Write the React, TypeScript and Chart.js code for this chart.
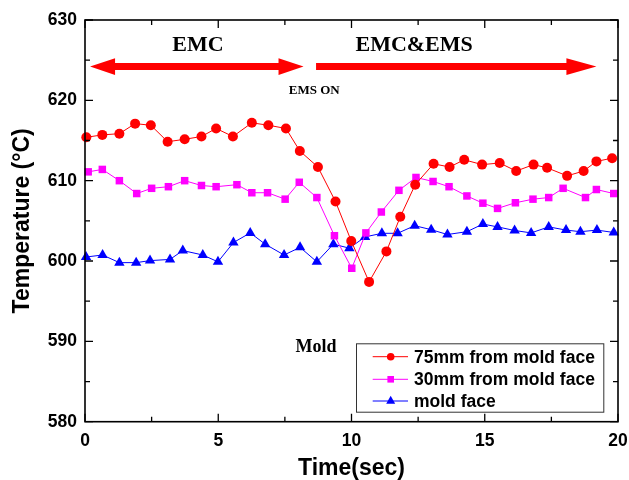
import React, { useEffect, useRef } from "react";
import { Chart, registerables } from "chart.js";

Chart.register(...registerables);

// ---- Data ----
const time75 = [0.05, 0.65, 1.29, 1.88, 2.47, 3.1, 3.74, 4.37, 4.92, 5.55, 6.26, 6.88, 7.54, 8.06, 8.74, 9.4, 9.99, 10.66, 11.31, 11.83, 12.39, 13.08, 13.68, 14.23, 14.9, 15.56, 16.18, 16.83, 17.34, 18.09, 18.71, 19.19, 19.78];
const temp75 = [615.4, 615.7, 615.85, 617.1, 616.9, 614.85, 615.15, 615.5, 616.5, 615.5, 617.2, 616.9, 616.5, 613.7, 611.7, 607.4, 602.5, 597.4, 601.2, 605.5, 609.5, 612.1, 611.7, 612.6, 612.0, 612.2, 611.2, 612.0, 611.6, 610.6, 611.2, 612.4, 612.8];

const time30 = [0.12, 0.65, 1.29, 1.94, 2.5, 3.13, 3.74, 4.37, 4.92, 5.7, 6.26, 6.85, 7.51, 8.04, 8.7, 9.36, 10.01, 10.54, 11.12, 11.78, 12.42, 13.06, 13.66, 14.33, 14.93, 15.48, 16.15, 16.81, 17.4, 17.94, 18.78, 19.19, 19.84];
const temp30 = [611.1, 611.4, 610.0, 608.4, 609.05, 609.25, 610.0, 609.4, 609.25, 609.5, 608.5, 608.5, 607.7, 609.8, 607.9, 603.15, 599.1, 603.5, 606.1, 608.8, 610.4, 609.9, 609.25, 608.1, 607.2, 606.55, 607.25, 607.7, 607.9, 609.05, 607.9, 608.9, 608.4];

const timeFace = [0.04, 0.66, 1.29, 1.92, 2.44, 3.19, 3.67, 4.42, 4.99, 5.57, 6.2, 6.76, 7.47, 8.07, 8.7, 9.32, 9.92, 10.51, 11.14, 11.73, 12.37, 12.99, 13.6, 14.33, 14.93, 15.48, 16.12, 16.74, 17.4, 18.05, 18.59, 19.21, 19.84];
const tempFace = [600.5, 600.75, 599.8, 599.8, 600.05, 600.2, 601.3, 600.75, 599.9, 602.3, 603.5, 602.1, 600.75, 601.7, 599.9, 602.1, 601.6, 603.0, 603.45, 603.45, 604.4, 603.9, 603.3, 603.65, 604.6, 604.25, 603.8, 603.5, 604.25, 603.85, 603.65, 603.85, 603.55];

const seriesLabels = ["75mm from mold face", "30mm from mold face", "mold face"];
const xTickValues = [0, 5, 10, 15, 20];
const yTickValues = [580, 590, 600, 610, 620, 630];

// annotation anchors (data units)
const emcArrow = [0.19, 8.2, 624.2];
const emsArrow = [8.67, 19.19, 624.2];
const annotTexts = [
  { text: "EMC", x: 4.24, y: 626.9, size: 22 },
  { text: "EMC&EMS", x: 12.35, y: 626.9, size: 22 },
  { text: "EMS ON", x: 8.6, y: 621.2, size: 13 },
  { text: "Mold", x: 8.67, y: 589.2, size: 18 },
];

const SANS = "'Liberation Sans', Arial, sans-serif";
const SERIF = "'Liberation Serif', 'Times New Roman', serif";
const RED = "#ff0000";
const MAGENTA = "#ff00ff";
const BLUE = "#0000ff";

function toXY(xs: number[], ys: number[]) {
  return xs.map((x, i) => ({ x, y: ys[i] }));
}

function drawMarker(ctx: CanvasRenderingContext2D, style: string, x: number, y: number, r: number, color: string) {
  ctx.fillStyle = color;
  ctx.beginPath();
  if (style === "circle") {
    ctx.arc(x, y, r, 0, Math.PI * 2);
  } else if (style === "rect") {
    ctx.rect(x - r, y - r, 2 * r, 2 * r);
  } else {
    ctx.moveTo(x, y - r * 1.15);
    ctx.lineTo(x + r, y + r * 0.6);
    ctx.lineTo(x - r, y + r * 0.6);
    ctx.closePath();
  }
  ctx.fill();
}

function drawArrow(ctx: CanvasRenderingContext2D, x1: number, x2: number, y: number, both: boolean, headLen: number) {
  const h = 3.5;
  const hh = 8.3;
  ctx.beginPath();
  if (both) {
    ctx.moveTo(x1, y);
    ctx.lineTo(x1 + headLen, y - hh);
    ctx.lineTo(x1 + headLen, y - h);
  } else {
    ctx.moveTo(x1, y - h);
  }
  ctx.lineTo(x2 - headLen, y - h);
  ctx.lineTo(x2 - headLen, y - hh);
  ctx.lineTo(x2, y);
  ctx.lineTo(x2 - headLen, y + hh);
  ctx.lineTo(x2 - headLen, y + h);
  if (both) {
    ctx.lineTo(x1 + headLen, y + h);
    ctx.lineTo(x1 + headLen, y + hh);
  } else {
    ctx.lineTo(x1, y + h);
  }
  ctx.closePath();
  ctx.fill();
}

const framePlugin = {
  id: "framePlugin",
  afterDraw(chart: any) {
    const ctx: CanvasRenderingContext2D = chart.ctx;
    const { left, right, top, bottom } = chart.chartArea;
    const xs = chart.scales.x;
    const ys = chart.scales.y;
    ctx.save();
    // frame
    ctx.strokeStyle = "#000";
    ctx.lineWidth = 1.6;
    ctx.strokeRect(left, top, right - left, bottom - top);
    // inward ticks
    ctx.lineWidth = 1.3;
    ctx.beginPath();
    for (let v = 0; v <= 20; v += 2.5) {
      const px = xs.getPixelForValue(v);
      const len = v % 5 === 0 ? 8 : 5;
      ctx.moveTo(px, bottom);
      ctx.lineTo(px, bottom - len);
      ctx.moveTo(px, top);
      ctx.lineTo(px, top + len);
    }
    for (let v = 580; v <= 630; v += 5) {
      const py = ys.getPixelForValue(v);
      const len = v % 10 === 0 ? 8 : 5;
      ctx.moveTo(left, py);
      ctx.lineTo(left + len, py);
      ctx.moveTo(right, py);
      ctx.lineTo(right - len, py);
    }
    ctx.stroke();

    // arrows
    ctx.fillStyle = RED;
    drawArrow(ctx, xs.getPixelForValue(emcArrow[0]), xs.getPixelForValue(emcArrow[1]), ys.getPixelForValue(emcArrow[2]), true, 25);
    drawArrow(ctx, xs.getPixelForValue(emsArrow[0]), xs.getPixelForValue(emsArrow[1]), ys.getPixelForValue(emsArrow[2]), false, 30);

    // texts
    ctx.fillStyle = "#000";
    ctx.textAlign = "center";
    ctx.textBaseline = "middle";
    for (const t of annotTexts) {
      ctx.font = `bold ${t.size}px ${SERIF}`;
      ctx.fillText(t.text, xs.getPixelForValue(t.x), ys.getPixelForValue(t.y));
    }

    // legend
    const lx = 356, ly = 343.3, lw = 247.3, lh = 68.4;
    ctx.fillStyle = "#fff";
    ctx.fillRect(lx, ly, lw, lh);
    ctx.strokeStyle = "#333";
    ctx.lineWidth = 1;
    ctx.strokeRect(lx + 0.5, ly + 0.5, lw, lh);
    const colors = [RED, MAGENTA, BLUE];
    const styles = ["circle", "rect", "triangle"];
    const rows = [356.7, 379.3, 401];
    ctx.font = `bold 17.5px ${SANS}`;
    ctx.textAlign = "left";
    ctx.textBaseline = "middle";
    for (let i = 0; i < 3; i++) {
      ctx.strokeStyle = colors[i];
      ctx.lineWidth = 1;
      ctx.beginPath();
      ctx.moveTo(372.7, rows[i]);
      ctx.lineTo(408, rows[i]);
      ctx.stroke();
      drawMarker(ctx, styles[i], 390.7, rows[i], i === 1 ? 3.3 : i === 0 ? 3.8 : 4.5, colors[i]);
      ctx.fillStyle = "#000";
      ctx.fillText(seriesLabels[i], 414, rows[i] + 1);
    }
    ctx.restore();
  },
};

export default function App() {
  const canvasRef = useRef<HTMLCanvasElement | null>(null);

  useEffect(() => {
    const canvas = canvasRef.current;
    if (!canvas) return;
    const tickFont = { family: SANS, size: 17.5, weight: "bold" as const };
    const titleFont = { family: SANS, size: 23, weight: "bold" as const };
    const chart = new Chart(canvas, {
      type: "line",
      data: {
        datasets: [
          {
            label: seriesLabels[0],
            data: toXY(time75, temp75),
            borderColor: RED,
            backgroundColor: RED,
            borderWidth: 1,
            pointStyle: "circle",
            pointRadius: 5,
            pointBorderWidth: 0,
            clip: false,
          },
          {
            label: seriesLabels[1],
            data: toXY(time30, temp30),
            borderColor: MAGENTA,
            backgroundColor: MAGENTA,
            borderWidth: 1,
            pointStyle: "rect",
            pointRadius: 5.3,
            pointBorderWidth: 0,
            clip: false,
          },
          {
            label: seriesLabels[2],
            data: toXY(timeFace, tempFace),
            borderColor: BLUE,
            backgroundColor: BLUE,
            borderWidth: 1,
            pointStyle: "triangle",
            pointRadius: 6,
            pointBorderWidth: 0,
            clip: false,
          },
        ],
      },
      options: {
        responsive: false,
        animation: false,
        devicePixelRatio: 1,
        layout: { padding: { top: 20, right: 11, left: 0, bottom: 0 } },
        plugins: { legend: { display: false }, tooltip: { enabled: false } },
        scales: {
          x: {
            type: "linear",
            min: 0,
            max: 20,
            afterBuildTicks: (s: any) => {
              s.ticks = xTickValues.map((v) => ({ value: v }));
            },
            afterFit: (s: any) => {
              s.height = 58.3;
              s.paddingLeft = 0;
              s.paddingRight = 0;
            },
            ticks: { font: tickFont, color: "#000", padding: 9, maxRotation: 0 },
            grid: { display: false, drawTicks: false },
            border: { display: false },
            title: {
              display: true,
              text: "Time(sec)",
              font: titleFont,
              color: "#000",
              padding: { top: 0, bottom: -2 },
            },
          },
          y: {
            type: "linear",
            min: 580,
            max: 630,
            afterBuildTicks: (s: any) => {
              s.ticks = yTickValues.map((v) => ({ value: v }));
            },
            afterFit: (s: any) => {
              s.width = 85;
              s.paddingTop = 0;
              s.paddingBottom = 0;
            },
            ticks: { font: tickFont, color: "#000", padding: 8 },
            grid: { display: false, drawTicks: false },
            border: { display: false },
            title: {
              display: true,
              text: "Temperature (°C)",
              font: titleFont,
              color: "#000",
              padding: { top: 9, bottom: 0 },
            },
          },
        },
      },
      plugins: [framePlugin],
    } as any);
    return () => chart.destroy();
  }, []);

  return (
    <div style={{ position: "fixed", left: 0, top: 0, width: 629, height: 480, background: "#fff" }}>
      <canvas ref={canvasRef} width={629} height={480} style={{ width: 629, height: 480, display: "block" }} />
    </div>
  );
}
